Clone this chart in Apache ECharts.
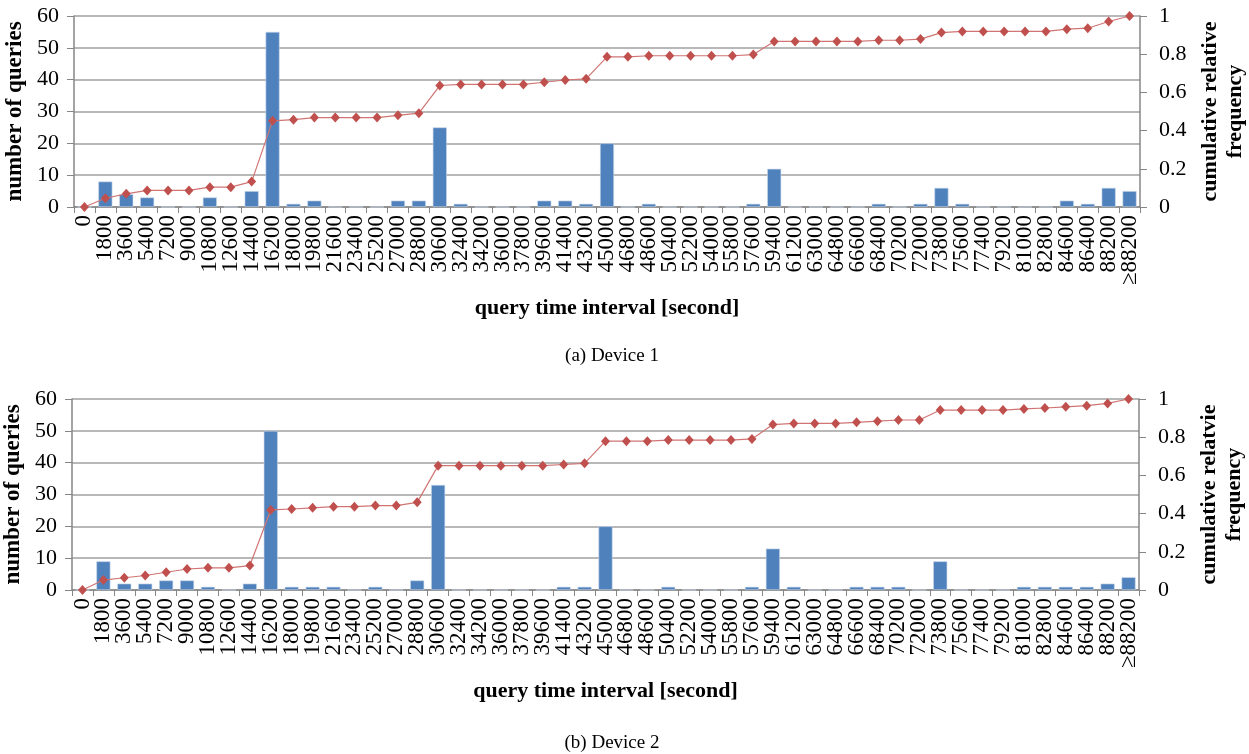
<!DOCTYPE html>
<html>
<head>
<meta charset="utf-8">
<script src="https://cdn.jsdelivr.net/npm/echarts@6/dist/echarts.min.js"></script>
<style>
html,body{margin:0;padding:0;background:#fff;}
#chart{width:1249px;height:754px;}
</style>
</head>
<body>
<div id="chart"></div>
<script>
// Category tick labels (query time interval, seconds)
const categories = ['0','1800','3600','5400','7200','9000','10800','12600','14400','16200','18000','19800','21600','23400','25200','27000','28800','30600','32400','34200','36000','37800','39600','41400','43200','45000','46800','48600','50400','52200','54000','55800','57600','59400','61200','63000','64800','66600','68400','70200','72000','73800','75600','77400','79200','81000','82800','84600','86400','88200','≥88200'];

// Device 1: number of queries per interval
const device1Counts = [0,8,4,3,0,0,3,0,5,55,1,2,0,0,0,2,2,25,1,0,0,0,2,2,1,20,0,1,0,0,0,0,1,12,0,0,0,0,1,0,1,6,1,0,0,0,0,2,1,6,5];
// Device 1: cumulative relative frequency
const device1Cum = [0,0.046,0.069,0.087,0.087,0.087,0.104,0.104,0.133,0.451,0.457,0.468,0.468,0.468,0.468,0.480,0.491,0.636,0.642,0.642,0.642,0.642,0.653,0.665,0.671,0.786,0.786,0.792,0.792,0.792,0.792,0.792,0.798,0.867,0.867,0.867,0.867,0.867,0.873,0.873,0.879,0.913,0.919,0.919,0.919,0.919,0.919,0.931,0.936,0.971,1.0];

// Device 2: number of queries per interval
const device2Counts = [0,9,2,2,3,3,1,0,2,50,1,1,1,0,1,0,3,33,0,0,0,0,0,1,1,20,0,0,1,0,0,0,1,13,1,0,0,1,1,1,0,9,0,0,0,1,1,1,1,2,4];
// Device 2: cumulative relative frequency
const device2Cum = [0,0.052,0.064,0.076,0.093,0.110,0.116,0.116,0.128,0.419,0.424,0.430,0.436,0.436,0.442,0.442,0.459,0.651,0.651,0.651,0.651,0.651,0.651,0.657,0.663,0.779,0.779,0.779,0.785,0.785,0.785,0.785,0.791,0.866,0.872,0.872,0.872,0.878,0.884,0.890,0.890,0.942,0.942,0.942,0.942,0.948,0.953,0.959,0.965,0.977,1.0];

// Axis labels and texts
const leftAxisName = 'number of queries';
const rightAxisName1 = 'cumulative relative\nfrequency';
const rightAxisName2 = 'cumulative relatvie\nfrequency';
const xAxisName = 'query time interval [second]';
const captions = ['(a) Device 1', '(b) Device 2'];

const SERIF = '"Liberation Serif","Times New Roman",serif';
const AXIS_GRAY = '#868686';
const GRID_GRAY = '#a0a0a0';
const BAR_BLUE = '#4F81BD';
const LINE_RED = '#C0504D';

function xAxisCfg(gridIndex) {
  return {
    type: 'category', gridIndex: gridIndex, data: categories,
    name: xAxisName, nameLocation: 'middle', nameGap: 90,
    nameTextStyle: {fontFamily: SERIF, fontSize: 22, fontWeight: 'bold', color: '#000'},
    axisLine: {lineStyle: {color: AXIS_GRAY, width: 1.5}},
    axisTick: {show: true, length: 6, lineStyle: {color: AXIS_GRAY, width: 1}},
    axisLabel: {interval: 0, rotate: 90, margin: 8, fontFamily: SERIF, fontSize: 23, color: '#000'},
    splitLine: {show: false}
  };
}
function leftAxisCfg(gridIndex) {
  return {
    type: 'value', gridIndex: gridIndex, min: 0, max: 60, interval: 10,
    name: leftAxisName, nameLocation: 'middle', nameRotate: 90, nameGap: 46,
    nameTextStyle: {fontFamily: SERIF, fontSize: 23, fontWeight: 'bold', color: '#000'},
    axisLine: {show: true, lineStyle: {color: AXIS_GRAY, width: 1.5}},
    axisTick: {show: true, length: 7, lineStyle: {color: AXIS_GRAY}},
    axisLabel: {margin: 15, fontFamily: SERIF, fontSize: 22, color: '#000'},
    splitLine: {show: true, lineStyle: {color: GRID_GRAY, width: 1.5}}
  };
}
function rightAxisCfg(gridIndex, nm) {
  return {
    type: 'value', gridIndex: gridIndex, position: 'right', min: 0, max: 1, interval: 0.2,
    name: nm, nameLocation: 'middle', nameRotate: 90, nameGap: 53,
    nameTextStyle: {fontFamily: SERIF, fontSize: 22, fontWeight: 'bold', color: '#000', lineHeight: 25, align: 'center'},
    axisLine: {show: true, lineStyle: {color: AXIS_GRAY, width: 1.5}},
    axisTick: {show: true, length: 7, lineStyle: {color: AXIS_GRAY}},
    axisLabel: {margin: 19, fontFamily: SERIF, fontSize: 22, color: '#000',
      formatter: function (v) { return String(Math.round(v * 10) / 10); }},
    splitLine: {show: false}
  };
}
function barSeries(xi, yi, data) {
  return {type: 'bar', xAxisIndex: xi, yAxisIndex: yi, data: data, barCategoryGap: '33%',
    itemStyle: {color: BAR_BLUE, borderColor: '#c9d7ea', borderWidth: 0.6}, silent: true, z: 2};
}
function lineSeries(xi, yi, data) {
  return {type: 'line', xAxisIndex: xi, yAxisIndex: yi, data: data,
    symbol: 'diamond', symbolSize: [9, 10], showAllSymbol: true,
    lineStyle: {color: '#d07573', width: 1.2},
    itemStyle: {color: LINE_RED}, silent: true, z: 3};
}

const chart = echarts.init(document.getElementById('chart'), null, {renderer: 'canvas'});
chart.setOption({
  animation: false,
  backgroundColor: '#fff',
  title: [
    {text: captions[0], left: 607, top: 342, textAlign: 'center',
      textStyle: {fontFamily: SERIF, fontSize: 19, fontWeight: 'normal', color: '#000'}},
    {text: captions[1], left: 607, top: 729, textAlign: 'center',
      textStyle: {fontFamily: SERIF, fontSize: 19, fontWeight: 'normal', color: '#000'}}
  ],
  grid: [
    {left: 74, top: 16, width: 1066, height: 191, containLabel: false, outerBoundsMode: 'none'},
    {left: 72, top: 399, width: 1067, height: 191, containLabel: false, outerBoundsMode: 'none'}
  ],
  xAxis: [xAxisCfg(0), xAxisCfg(1)],
  yAxis: [leftAxisCfg(0), rightAxisCfg(0, rightAxisName1), leftAxisCfg(1), rightAxisCfg(1, rightAxisName2)],
  series: [
    barSeries(0, 0, device1Counts),
    lineSeries(0, 1, device1Cum),
    barSeries(1, 2, device2Counts),
    lineSeries(1, 3, device2Cum)
  ]
});
</script>
</body>
</html>
